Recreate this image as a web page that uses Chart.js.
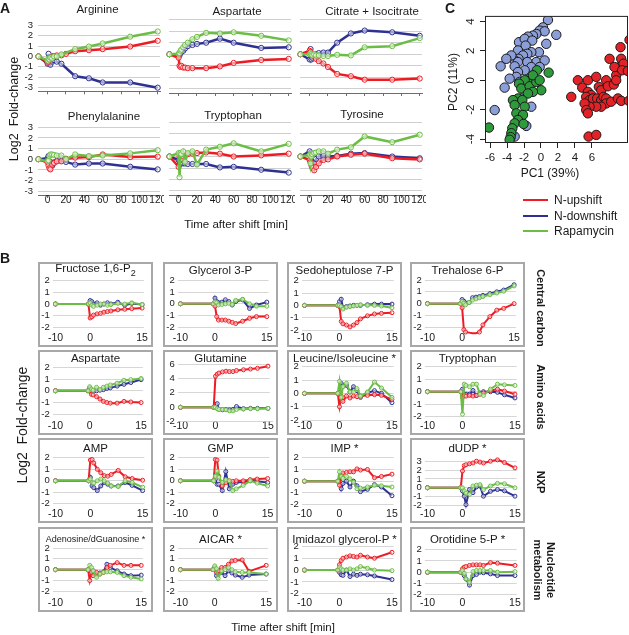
<!DOCTYPE html>
<html>
<head>
<meta charset="utf-8">
<script src="https://cdn.jsdelivr.net/npm/chart.js@4.4.0/dist/chart.umd.min.js"></script>
<style>
  body { margin: 0; background: #fff; }
  #fig { position: relative; width: 629px; height: 635px; overflow: hidden;
         font-family: "Liberation Sans", Arial, sans-serif; color: #1a1a1a; }
  #fig canvas { position: absolute; }
  .t { position: absolute; white-space: nowrap; transform: translate(-50%, -50%); }
  .box { position: absolute; box-sizing: border-box; width: 115px; height: 85px; border: 2px solid #a8a8a8; }
  .leg { position: absolute; height: 2px; width: 25px; }
</style>
</head>
<body>
<div id="fig"></div>
<script>
// condition colours
const RED = '#ed1c24'
const BLUE = '#2e3192'
const GREEN = '#6cbd45'

// ---- Panel A: time course over 2 h ----
const timeA = [-10, 0, 1, 2, 3, 5, 7, 10, 15, 20, 30, 45, 60, 90, 120]
const tickA = [0, 20, 40, 60, 80, 100, 120]
const yTickA = [-3, -2, -1, 0, 1, 2, 3]

const arginineUp = [0, -0.6, -0.5, -0.3, -0.1, 0, 0.05, 0.1, 0.1, 0.25, 0.5, 0.6, 0.7, 0.95, 1.5]
const arginineDown = [0, -0.7, 0.25, -0.6, -0.8, -0.5, -0.35, -0.5, -0.7, null, -1.9, -2.1, -2.5, -2.5, -3.0]
const arginineRapa = [0, -0.4, -0.2, -0.3, -0.1, -0.2, 0, 0, 0.2, null, 0.7, 0.95, 1.25, 1.9, 2.4]

const aspartateAUp = [0, -0.3, -1.0, -1.1, -1.0, -1.15, -1.15, -1.2, -1.2, null, -1.2, -1.05, -0.75, -0.5, -0.4]
const aspartateADown = [0, 0, -0.1, 0.1, 0.2, 0.3, 0.5, 0.7, 0.8, 0.9, 1.0, 1.35, 1.0, 0.55, 0.6]
const aspartateARapa = [0, 0.05, 0.1, 0.3, 0.4, 0.6, 0.8, 1.0, 1.3, 1.5, 1.85, 1.8, 1.9, 1.6, 1.2]

const citrateUp = [0, 0.3, 0.2, 0, -0.1, -0.2, -0.4, -0.6, -0.8, -1.1, -1.7, -1.9, -2.2, -2.2, -2.1]
const citrateDown = [0, -0.45, 0.45, -0.45, -0.3, -0.2, 0, 0.1, 0.15, 0.15, 1.0, 1.8, 2.05, 1.9, 1.6]
const citrateRapa = [0, 0, 0.1, 0, -0.1, 0, -0.1, -0.1, -0.15, -0.15, -0.05, -0.1, 0.6, 0.7, 1.4]

const phenylalanineUp = [0, -0.3, -0.6, -0.85, -0.95, -0.5, -0.35, -0.2, -0.2, 0.05, 0.15, 0.2, 0.45, 0.2, 0.25]
const phenylalanineDown = [0, 0.1, 0.3, -0.2, -0.3, -0.6, -0.3, -0.15, -0.15, -0.25, -0.5, -0.4, -0.4, -0.7, -0.95]
const phenylalanineRapa = [0, -0.2, -0.1, 0.3, 0.45, 0.45, 0.4, 0.35, 0.35, 0, 0.45, 0.3, 0.35, 0.55, 0.85]

const tryptophanAUp = [0, -0.9, 0, -0.3, -0.2, 0, 0.1, 0.2, 0.25, 0.3, 0.35, 0.25, 0, 0.1, 0.25]
const tryptophanADown = [0, -0.3, -0.7, -0.5, -0.6, -0.6, -0.6, -0.65, -0.65, -0.65, -0.65, -0.95, -0.9, -1.15, -1.4]
const tryptophanARapa = [0, 0.3, -1.8, 0.3, 0.2, 0.45, -0.45, 0.3, 0.45, -0.7, 0.6, 0.85, 1.15, 0.45, 1.1]

const tyrosineUp = [0, -0.3, -0.5, -0.8, -1.0, -1.2, -0.9, -0.6, -0.3, -0.25, 0, 0.15, 0.25, -0.15, -0.25]
const tyrosineDown = [0, 0.45, -0.3, -0.4, -0.5, -0.6, -0.2, 0, 0.05, 0, 0.05, 0.25, 0.3, 0, -0.15]
const tyrosineRapa = [0, 0.15, -0.6, 0, 0.2, 0.3, 0.35, 0.45, 0.45, 0.25, 0.6, 0.8, 1.75, 1.25, 1.9]

// ---- Panel B: first 15 min ----
const timeB = [-10, -0.5, 0, 0.5, 1, 2, 3, 4, 5, 6, 8, 10, 12, 15]
const tickB = [-10, 0, 15]
const yTickB = [-2, -1, 0, 1, 2]
const yTickGln = [-2, 0, 2, 4, 6]
const yTickDudp = [-2, -1, 0, 1, 2, 3]

const fructoseUp = [0, 0, -1.2, -1.1, -0.95, -0.85, -0.8, -0.7, -0.65, -0.6, -0.5, -0.45, -0.4, -0.35]
const fructoseDown = [0, 0, 0.3, 0.2, 0, 0.1, -0.1, 0, 0.1, 0, 0.15, -0.1, 0.05, -0.05]
const fructoseRapa = [0, 0, 0.1, -0.1, -0.2, -0.1, 0, 0, -0.1, -0.05, 0.05, 0, 0.1, -0.05]

const glycerolUp = [0, 0, -0.2, -1.1, -1.4, -1.4, -1.4, -1.5, -1.6, -1.7, -1.5, -1.25, -1.1, -1.1]
const glycerolDown = [0, 0, 0.5, 0.2, 0.1, 0.15, 0.35, 0.2, -0.1, 0.2, 0.35, -0.4, -0.1, 0.15]
const glycerolRapa = [0, 0, 0.2, 0.1, -0.1, -0.05, 0, 0.05, -0.05, 0.3, 0.4, 0, -0.2, -0.2]

const sedoUp = [0, 0, -0.1, -1.3, -1.5, -1.6, -1.75, -1.6, -1.4, -1.1, -0.85, -0.7, -0.65, -0.6]
const sedoDown = [0, 0, 0.3, 0.5, -0.2, -0.1, -0.05, 0, 0, 0, 0.05, 0.1, 0.1, 0.1]
const sedoRapa = [0, 0, 0, -0.1, -0.3, -0.15, -0.1, -0.05, 0, 0.05, 0, 0, -0.05, -0.2]

const trehaloseUp = [0, 0, -0.35, -2.2, -2.4, -2.45, -2.5, -2.5, -2.4, -1.8, -1.1, -0.55, -0.4, 0]
const trehaloseDown = [0, 0, 0.35, 0.2, 0.05, 0.1, 0.5, 0.55, 0.6, 0.7, 0.85, 1.0, 1.15, 1.6]
const trehaloseRapa = [0, 0, 0.2, 0.05, -0.1, 0.1, 0.3, 0.4, 0.5, 0.6, 0.75, 0.9, 1.05, 1.5]

const aspartateBUp = [0, 0, 0, -0.3, -0.35, -0.5, -0.7, -0.9, -1.0, -1.05, -1.05, -0.9, -0.95, -1.0]
const aspartateBDown = [0, 0, 0.25, 0.05, 0, 0, 0.05, 0.1, 0.2, 0.25, 0.4, 0.55, 0.7, 0.95]
const aspartateBRapa = [0, 0, 0.35, 0.15, 0.05, 0.3, 0.1, 0.3, 0.4, 0.5, 0.65, 0.9, 0.95, 1.05]

const glutamineUp = [0, 0, 4.3, 4.6, 4.75, 4.9, 5.0, 4.95, 4.95, 5.1, 5.2, 5.3, 5.4, 5.7]
const glutamineDown = [0, 0, 0.35, 0.5, -0.3, -0.35, -0.3, -0.35, -0.3, 0.1, -0.2, -0.15, -0.15, -0.15]
const glutamineRapa = [0, 0, 0, -0.2, -0.3, -0.3, -0.35, -0.5, -0.5, -0.3, -0.25, -0.2, -0.2, -0.15]

const leucineUp = [0, 0, -1.0, -0.2, -0.6, -0.2, -0.35, -0.2, -0.25, -0.2, -0.15, -0.1, -0.15, -0.45]
const leucineDown = [0, 0, 0.1, 0.75, 0.55, 0.6, 0.1, 0.5, 0.2, -0.3, 0.05, 0.2, 0, -0.7]
const leucineRapa = [0, 0, 0.9, -0.3, 0.5, 0.75, 0.1, 0.1, 0.35, -0.2, 0.1, 0.85, 0.4, -0.3]

const tryptophanBUp = [0, 0, -0.45, -0.3, -0.35, -0.3, -0.35, -0.3, -0.2, -0.1, 0.1, 0.2, 0.05, -0.2]
const tryptophanBDown = [0, 0, 0.2, -0.2, -0.2, -0.2, 0.1, -0.3, -0.1, 0, 0, -0.05, -0.25, -0.5]
const tryptophanBRapa = [0, 0, -1.8, 0.6, 0.5, 0.4, 0.6, 0.6, -0.2, -0.3, 0.2, 0.6, 0.55, 0.5]

const ampUp = [0, 0, 1.8, 1.85, 1.55, 1.0, 0.7, 0.45, 0.4, 0.55, 0.9, 0.35, 0.2, 0.05]
const ampDown = [0, 0, 0.3, -0.45, -0.6, -0.85, -0.45, -0.15, -0.3, -0.45, -0.45, -0.15, -0.4, -0.85]
const ampRapa = [0, 0, 0.15, -0.15, -0.2, 0, 0.15, 0, -0.2, -0.45, -0.5, 0, -0.15, -0.55]

const gmpUp = [0, 0, 1.85, 1.8, 0.4, -0.45, -0.15, 0, -0.05, 0, 0, 0.1, 0.15, 0.2]
const gmpDown = [0, 0, 0.15, -0.3, -0.3, -0.85, 0.8, -0.7, -0.3, -0.15, -0.1, 0, -0.05, -0.15]
const gmpRapa = [0, 0, 0.4, 0.85, 0.3, -0.15, 0.1, 0, -0.85, -0.7, -0.4, 0, -0.2, -0.45]

const impUp = [0, 0, -0.35, 0.5, 0.7, 0.75, 0.8, 0.8, 1.05, 0.95, 1.0, 0.3, 0.4, 0.6]
const impDown = [0, 0, 0.1, -0.65, -0.2, 0, -0.5, 0, -0.4, -0.9, -0.7, -0.3, -0.5, -1.25]
const impRapa = [0, 0, 0.8, 0.4, 0.25, 0.4, 0.2, -0.1, -0.65, -0.6, -0.5, -0.35, -0.4, -0.5]

const dudpUp = [0, 0, 1.9, 2.5, 2.6, 2.7, 2.8, 3.0, 2.9, 2.8, 3.0, 3.15, 2.85, 2.25]
const dudpDown = [0, 0, -0.35, -0.95, -1.9, -0.2, -0.55, 0.1, 0.2, -0.95, -0.4, -0.2, -0.35, -0.95]
const dudpRapa = [0, 0, 0, -0.35, -0.6, -0.75, 0.2, 0.3, 0.35, -0.2, 0.2, 0.5, 0.45, 0]

const adenosineUp = [0, 0, -1.0, -0.25, -0.55, -0.25, -0.4, -0.25, 0.2, 0.4, 0.65, 0.4, 0.4, 0.4]
const adenosineDown = [0, 0, -0.1, -0.1, -0.1, -0.4, -0.3, -0.2, 0.5, 0.2, -0.1, -0.4, -0.55, -0.5]
const adenosineRapa = [0, 0, 0.4, 0.2, -0.1, -0.7, -0.4, -0.25, -0.2, -0.2, -0.25, -0.55, -0.7, -0.85]

const aicarUp = [0, 0, 0, -0.25, -0.1, 0.2, 0.2, 0.5, 0.8, 0.85, 0.9, -0.15, null, 0.4]
const aicarDown = [0, 0, 0.2, -0.55, -0.3, -0.25, -0.55, -0.1, -0.3, -0.5, -0.7, -0.5, null, -0.4]
const aicarRapa = [0, 0, 0.35, 0.1, -0.8, -0.1, 0, 0.2, 0, -0.2, -0.25, -0.25, null, -0.4]

const imidazolUp = [0, 0, 0.45, 0.8, 1.0, 1.1, 1.2, 1.15, 1.1, 1.25, 1.1, 1.0, null, 1.5]
const imidazolDown = [0, 0, -0.2, -0.4, -0.45, 0, -0.55, -0.35, -0.45, -0.35, -0.4, -0.5, null, -0.8]
const imidazolRapa = [0, 0, 0.25, 0.1, 0, 0, 0.1, 0, 0.1, 0.3, 0.15, 0, null, -0.05]

const orotidineUp = [0, 0, 0.3, 0.45, 0.5, 0.6, 0.65, 0.65, 0.65, 0.6, 0.85, 0.8, null, 0.6]
const orotidineDown = [0, 0, 0, -0.3, -0.6, -1.15, -0.3, -0.2, 0, -0.05, -0.15, -0.3, null, -0.3]
const orotidineRapa = [0, 0, 0.15, -0.1, -0.6, -0.9, 0.05, 0.15, 0.15, 0.15, 0.15, 0, null, 0.05]

// ---- Panel C: PCA scores ----
const upshiftPC1 = [3.56, 4.34, 4.85, 5.52, 5.52, 6.5, 6.81, 7.09, 7.67, 7.87, 8.57, 8.85, 9.24, 9.44, 9.36, 9.71, 10.42, 8.07, 8.65, 9.55, 10.22, 8.85, 5.91, 5.32, 5.72, 6.11, 6.61, 7.09, 7.36, 7.67, 7.67, 7.09, 6.5, 5.72, 5.13, 5.32, 5.52, 8.26, 9.05, 9.44, 10.34, 5.6, 6.5]
const upshiftPC2 = [-1.13, 0, -0.5, 0, -0.79, 0.23, -0.45, -0.68, 0, -0.41, -0.29, 0.34, 0.9, 1.46, 2.25, 1.13, 2.75, 1.46, 0.9, 0.68, 0.63, 0, -1.01, -1.13, -1.35, -1.24, -1.24, -1.35, -1.13, -1.24, -1.58, -1.8, -1.8, -1.8, -1.58, -2.03, -2.25, -1.46, -1.24, -1.4, -1.4, -3.83, -3.72]
const downshiftPC1 = [0.82, 0.23, -0.16, 0.43, -0.55, -0.95, -1.53, -2.59, -1.92, -1.03, -1.81, -2.71, 1.8, 0.62, -0.24, -1.14, -1.61, -2.12, -2.64, -3.1, -3.49, -2.71, -4.08, -4.75, -3.1, -0.55, -1.61, 0.43, -0.16, -1.14, -1.92, -2.71, -2.9, -3.69, -4.28, -5.45, -2.32, -1.73, -3.1, -1.14, -2.51]
const downshiftPC2 = [4.1, 3.6, 3.38, 3.33, 3.15, 3.04, 2.97, 2.59, 2.82, 2.7, 2.36, 2.03, 3.09, 2.48, 1.91, 1.91, 1.8, 1.69, 1.46, 1.35, 1.69, 1.24, 1.46, 0.95, 0.95, 1.24, 1.24, 1.35, 0.9, 0.9, 0.68, 0.56, 0.23, 0.11, -0.5, -2.03, -1.24, -3.11, -3.83, -1.8, -0.11]
const rapamycinPC1 = [0.9, -0.48, -1.34, -1.92, -2.59, -2.32, -1.34, -0.55, 0.03, -0.95, -1.53, -2.71, -3.3, -2.2, -3.1, -1.92, -2.9, -2.12, -2.71, -3.1, -2.05, -3.38, -6.12, -3.49, -3.57, -3.69, -0.95, -0.16]
const rapamycinPC2 = [0.52, 0.68, 0.11, 0, -0.23, -0.56, -0.41, -0.11, -0.68, -0.79, -0.9, -1.24, -1.35, -1.35, -1.69, -1.8, -2.25, -2.36, -2.7, -2.93, -2.97, -3.27, -3.22, -3.6, -3.87, -4.05, 0.34, 0]
const pcTickX = [-6, -4, -2, 0, 2, 4, 6]
const pcTickY = [-4, -2, 0, 2, 4]

// ---------------------------------------------------------------
Chart.defaults.font.family = '"Liberation Sans", Arial, sans-serif'
Chart.defaults.color = '#1a1a1a'

const fig = document.getElementById('fig')

function addCanvas(left, top, width, height) {
  const c = document.createElement('canvas')
  c.width = width
  c.height = height
  c.style.left = left + 'px'
  c.style.top = top + 'px'
  c.style.width = width + 'px'
  c.style.height = height + 'px'
  fig.appendChild(c)
  return c
}

function addText(html, x, y, css) {
  const d = document.createElement('div')
  d.className = 't'
  d.innerHTML = html
  d.style.left = x + 'px'
  d.style.top = y + 'px'
  Object.assign(d.style, css || {})
  fig.appendChild(d)
  return d
}

function fixedTicks(list) {
  return axis => { axis.ticks = list.map(v => ({ value: v })) }
}

function series(times, values, color, width, radius) {
  return {
    data: times.map((t, i) => ({ x: t, y: values[i] })),
    borderColor: color,
    borderWidth: width,
    pointRadius: radius,
    pointBorderWidth: 1,
    pointBorderColor: color,
    pointBackgroundColor: 'rgba(255,255,255,0.55)',
    spanGaps: true,
    clip: false
  }
}

const baseOptions = {
  responsive: false,
  animation: false,
  events: [],
  plugins: { legend: { display: false }, tooltip: { enabled: false } }
}

// ---- Panel A charts ----
const panelA = [
  ['Arginine', arginineUp, arginineDown, arginineRapa],
  ['Aspartate', aspartateAUp, aspartateADown, aspartateARapa],
  ['Citrate + Isocitrate', citrateUp, citrateDown, citrateRapa],
  ['Phenylalanine', phenylalanineUp, phenylalanineDown, phenylalanineRapa],
  ['Tryptophan', tryptophanAUp, tryptophanADown, tryptophanARapa],
  ['Tyrosine', tyrosineUp, tyrosineDown, tyrosineRapa]
]
const titlePosA = [[97.5, 9], [237, 11], [372, 11], [104, 115.5], [233, 115], [362, 114]]

panelA.forEach(([name, up, down, rapa], i) => {
  const col = i % 3
  const row = Math.floor(i / 3)
  const areaLeft = 38 + col * 131
  const yw = 26
  const xh = row === 0 ? 9 : 16
  const canvas = addCanvas(areaLeft - yw, row === 0 ? 14 : 116, yw + 126, row === 0 ? 88 : 95)
  new Chart(canvas, {
    type: 'line',
    data: {
      datasets: [
        series(timeA, rapa, GREEN, 2.5, 2.6),
        series(timeA, up, RED, 2.5, 2.6),
        series(timeA, down, BLUE, 2.5, 2.6)
      ]
    },
    options: {
      ...baseOptions,
      layout: { autoPadding: false, padding: { left: 0, right: 4, top: row === 0 ? 5 : 5.5, bottom: 0 } },
      scales: {
        x: {
          type: 'linear', min: -10.5, max: 122.5,
          afterBuildTicks: fixedTicks(tickA),
          afterFit: s => { s.height = xh },
          border: { display: true, color: '#6d6d6d', width: 1 },
          grid: { drawOnChartArea: false, drawTicks: true, tickLength: 3, color: '#6d6d6d' },
          ticks: { display: row === 1, autoSkip: false, maxRotation: 0, padding: -4, font: { size: 10 } }
        },
        y: {
          min: -3.35, max: 3.05,
          afterBuildTicks: fixedTicks(yTickA),
          afterFit: s => { s.width = yw },
          border: { display: false },
          grid: { color: '#cfcfcf', drawTicks: false },
          ticks: { display: col === 0, autoSkip: false, padding: 5, font: { size: 9.5 } }
        }
      }
    }
  })
  addText(name, titlePosA[i][0], titlePosA[i][1], { fontSize: '11.5px' })
})

// ---- Panel B charts ----
const panelB = [
  ['Fructose 1,6-P<sub style="font-size:9px">2</sub>', fructoseUp, fructoseDown, fructoseRapa, yTickB],
  ['Glycerol 3-P', glycerolUp, glycerolDown, glycerolRapa, yTickB],
  ['Sedoheptulose 7-P', sedoUp, sedoDown, sedoRapa, yTickB],
  ['Trehalose 6-P', trehaloseUp, trehaloseDown, trehaloseRapa, yTickB],
  ['Aspartate', aspartateBUp, aspartateBDown, aspartateBRapa, yTickB],
  ['Glutamine', glutamineUp, glutamineDown, glutamineRapa, yTickGln],
  ['Leucine/Isoleucine *', leucineUp, leucineDown, leucineRapa, yTickB],
  ['Tryptophan', tryptophanBUp, tryptophanBDown, tryptophanBRapa, yTickB],
  ['AMP', ampUp, ampDown, ampRapa, yTickB],
  ['GMP', gmpUp, gmpDown, gmpRapa, yTickB],
  ['IMP *', impUp, impDown, impRapa, yTickB],
  ['dUDP *', dudpUp, dudpDown, dudpRapa, yTickDudp],
  ['Adenosine/dGuanosine *', adenosineUp, adenosineDown, adenosineRapa, yTickB],
  ['AICAR *', aicarUp, aicarDown, aicarRapa, yTickB],
  ['Imidazol glycerol-P *', imidazolUp, imidazolDown, imidazolRapa, yTickB],
  ['Orotidine 5-P *', orotidineUp, orotidineDown, orotidineRapa, yTickB]
]
const colsB = [38, 163, 287, 410]
const rowsB = [262, 350, 438, 527]
const titleYB = [8, 8.3, 10, 12]
// plot-area top / bottom inside each box
const areaB = [
  [18.7, 65.3], [18.7, 65], [18.7, 68], [18, 65.3],
  [17.3, 64.3], [14, 71.7], [16.7, 70], [16.7, 66.7],
  [19.8, 65.8], [19.8, 65.8], [19.8, 66.5], [23.2, 67.5],
  [21, 64.4], [21, 64.4], [19.4, 66.7], [22.7, 67.7]
]

panelB.forEach(([name, up, down, rapa, yt], i) => {
  const L = colsB[i % 4]
  const T = rowsB[Math.floor(i / 4)]
  const [aTop, aBottom] = areaB[i]
  const box = document.createElement('div')
  box.className = 'box'
  box.style.left = L + 'px'
  box.style.top = T + 'px'
  fig.appendChild(box)
  const yw = 12
  const xh = 16
  const canvas = addCanvas(L, T, 115, 85)
  new Chart(canvas, {
    type: 'line',
    data: {
      datasets: [
        series(timeB, rapa, GREEN, 2, 2),
        series(timeB, up, RED, 2, 2),
        series(timeB, down, BLUE, 2, 2)
      ]
    },
    options: {
      ...baseOptions,
      layout: { autoPadding: false, padding: { left: 2.7, right: 8.3, top: aTop, bottom: 85 - aBottom - xh } },
      scales: {
        x: {
          type: 'linear', min: -10.8, max: 15.5,
          afterBuildTicks: fixedTicks(tickB),
          afterFit: s => { s.height = xh },
          border: { display: false },
          grid: { display: false, drawTicks: false },
          ticks: { autoSkip: false, maxRotation: 0, padding: 70.2 - aBottom, font: { size: 10.5 } }
        },
        y: {
          min: yt[0], max: yt[yt.length - 1],
          afterBuildTicks: fixedTicks(yt),
          afterFit: s => { s.width = yw },
          border: { display: false },
          grid: { color: '#d6d6d6', drawTicks: false },
          ticks: { autoSkip: false, padding: 3, font: { size: 9.5 } }
        }
      }
    }
  })
  addText(name, L + 57.5, T + titleYB[Math.floor(i / 4)], { fontSize: i === 12 ? '9px' : '11.5px' })
})

// ---- Panel C scatter ----
const boxPlugin = {
  id: 'frame',
  afterDraw(chart) {
    const { ctx, chartArea: a } = chart
    ctx.save()
    ctx.strokeStyle = '#222'
    ctx.lineWidth = 1
    ctx.strokeRect(a.left + 0.5, a.top + 0.5, a.right - a.left - 1, a.bottom - a.top - 1)
    ctx.restore()
  }
}

function pcSet(xs, ys, fill) {
  return {
    data: xs.map((x, i) => ({ x: x, y: ys[i] })),
    backgroundColor: fill,
    borderColor: '#1a1a1a',
    borderWidth: 1,
    pointRadius: 4.7,
    clip: 0
  }
}

const pcCanvas = addCanvas(455, 5, 174, 170)
new Chart(pcCanvas, {
  type: 'scatter',
  data: {
    datasets: [
      pcSet(upshiftPC1, upshiftPC2, '#e32227'),
      pcSet(rapamycinPC1, rapamycinPC2, '#2f9a3c'),
      pcSet(downshiftPC1, downshiftPC2, '#8c9ed8')
    ]
  },
  options: {
    ...baseOptions,
    layout: { autoPadding: false, padding: { left: 0, right: 1, top: 10, bottom: 0 } },
    scales: {
      x: {
        type: 'linear', min: -6.59, max: 10.24,
        afterBuildTicks: fixedTicks(pcTickX),
        afterFit: s => { s.height = 32 },
        border: { display: false },
        grid: { drawOnChartArea: false, drawTicks: true, tickLength: 5, color: '#222' },
        ticks: { autoSkip: false, maxRotation: 0, padding: 3, font: { size: 11.5 } }
      },
      y: {
        min: -4.27, max: 4.38,
        afterBuildTicks: fixedTicks(pcTickY),
        afterFit: s => { s.width = 30 },
        border: { display: false },
        grid: { drawOnChartArea: false, drawTicks: true, tickLength: 5, color: '#222' },
        ticks: { autoSkip: false, minRotation: 90, maxRotation: 90, crossAlign: 'center', padding: 4, font: { size: 11.5 } }
      }
    }
  },
  plugins: [boxPlugin]
})

// ---- labels ----
const bold = { fontWeight: 'bold', fontSize: '14px' }
addText('A', 5, 8, bold)
addText('B', 5, 258, bold)
addText('C', 450, 8, bold)

addText('Log2&nbsp; Fold-change', 14, 109, { fontSize: '12.5px', transform: 'translate(-50%,-50%) rotate(-90deg)' })
addText('Time after shift [min]', 236, 224, { fontSize: '11.5px' })
addText('Log2&nbsp; Fold-change', 22, 425, { fontSize: '14px', transform: 'translate(-50%,-50%) rotate(-90deg)' })
addText('Time after shift [min]', 283, 627, { fontSize: '11.5px' })

addText('PC2 (11%)', 453, 82, { fontSize: '12px', transform: 'translate(-50%,-50%) rotate(-90deg)' })
addText('PC1 (39%)', 550, 173, { fontSize: '12px' })

const rowLabel = { fontWeight: 'bold', fontSize: '11px', lineHeight: '13px', textAlign: 'center',
                   transform: 'translate(-50%,-50%) rotate(90deg)' }
addText('Central carbon', 540, 307.5, rowLabel)
addText('Amino acids', 540, 397, rowLabel)
addText('NXP', 540, 482, rowLabel)
addText('Nucleotide<br>metabolism', 544, 570, rowLabel)

// legend
const legend = [['N-upshift', RED, 200], ['N-downshift', BLUE, 216], ['Rapamycin', GREEN, 231]]
legend.forEach(([label, color, y]) => {
  const line = document.createElement('div')
  line.className = 'leg'
  line.style.left = '523px'
  line.style.top = (y - 1) + 'px'
  line.style.background = color
  fig.appendChild(line)
  addText(label, 554, y, { fontSize: '12px', transform: 'translateY(-50%)' })
})
</script>
</body>
</html>
